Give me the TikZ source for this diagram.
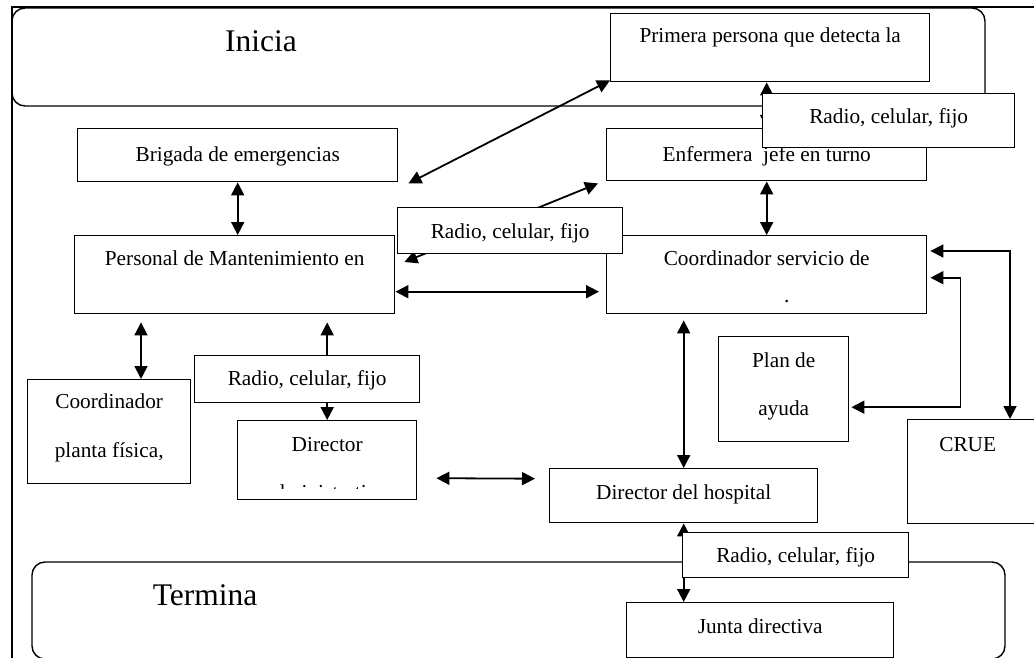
\documentclass[tikz,border=0pt]{standalone}
\usepackage{fontspec}
\setmainfont{Liberation Serif}
\usetikzlibrary{arrows.meta, calc}

\begin{document}
\begin{tikzpicture}[x=1pt, y=-1pt,
        font=\fontsize{21.3}{25}\selectfont,
        box/.style={draw, fill=white, line width=1.4pt, inner sep=0pt, anchor=north west},
        link/.style={line width=1.8pt, {Triangle[length=13pt,width=13pt]}-{Triangle[length=13pt,width=13pt]}},
        stage/.style={line width=1.4pt, rounded corners=13pt},
        title/.style={anchor=base, font=\fontsize{31.5}{36}\selectfont}]
        \useasboundingbox (0,0) rectangle (1034,658);

        \draw[line width=1.4pt] (12,658) -- (12,7) -- (1034,7);
        \draw[stage] (12,8) rectangle (985,106);
        \draw[stage] (32,562) rectangle (1005,659);
        \node[title] (inicia) at (261,52) {Inicia};
        \node[title] (termina) at (205,605) {Termina};

        \node[box, minimum width=319pt, text height=29pt, text depth=39pt] (primera) at (610,13) {Primera persona que detecta la};
        \node[box, minimum width=320pt, text height=33pt, text depth=20pt] (brigada) at (77,128) {Brigada de emergencias};
        \node[box, minimum width=320pt, text height=33pt, text depth=19pt] (enfermera) at (606,128) {Enfermera\ \ jefe en turno};
        \node[box, minimum width=320pt, text height=30pt, text depth=48pt] (personal) at (74,235) {Personal de Mantenimiento en};
        \node[box, minimum width=320pt, text height=30pt, text depth=48pt] (coordserv) at (606,235)
            {\parbox[t]{300pt}{\centering\fontsize{21.3}{37}\selectfont Coordinador servicio de\\\hspace*{40pt}.}};
        \node[box, minimum width=130pt, text height=31pt, text depth=74pt] (plan) at (718,336)
            {\parbox[t]{120pt}{\centering\fontsize{21.3}{48}\selectfont Plan de\\ayuda}};
        \node[box, minimum width=163pt, text height=29pt, text depth=75pt] (planta) at (27,379)
            {\parbox[t]{150pt}{\centering\fontsize{21.3}{49}\selectfont Coordinador\\planta física,}};
        \node[box, minimum width=179pt, text height=31pt, text depth=48pt] (diradm) at (237,420) {Director};
        \begin{scope}
            \clip (238,421) rectangle (415,488);
            \node[anchor=base, inner sep=0pt] (diradmcut) at (326.5,499) {administrativo};
        \end{scope}
        \node[box, minimum width=134pt, text height=32pt, text depth=72pt] (crue) at (907,419) {CRUE\hspace*{14pt}};
        \node[box, minimum width=268pt, text height=31pt, text depth=23pt] (dirhosp) at (549,468) {Director del hospital};
        \node[box, minimum width=267pt, text height=31pt, text depth=24pt] (junta) at (626,602) {Junta directiva};

        \draw[link] ($(brigada.south east)+(10,1)$) -- ($(primera.south west)+(0,-2)$);
        \draw[link] (enfermera.north) -- (enfermera.north |- primera.south);
        \draw[link] (enfermera.south) -- (coordserv.north);
        \draw[link] ($(personal.north east)+(9,27)$) -- ($(enfermera.south west)+(-8,2)$);
        \draw[link] ($(personal.east)+(0,17)$) -- ($(coordserv.west)+(-7,17)$);
        \draw[link] (brigada.south) -- (brigada.south |- personal.north);
        \draw[link] ($(personal.south west)+(67,8)$) -- ($(planta.north west)+(114,0)$);
        \draw[link] (diradm.north) -- ($(diradm.north |- personal.south)+(0,8)$);
        \draw[link] ($(diradm.east)+(19,18)$) -- ($(dirhosp.west)+(-14,-17)$);
        \draw[link] (dirhosp.north) -- ($(dirhosp.north |- coordserv.south)+(0,6)$);
        \draw[link] ($(coordserv.east)+(3,3)$) -- ++(30,0) |- ($(plan.east)+(2,18)$);
        \draw[link] ($(coordserv.north east)+(3,16)$) -| ($(crue.north west)+(103,0)$);
        \draw[link] (dirhosp.south) -- (dirhosp.south |- junta.north);

        \node[box, minimum width=252pt, text height=30pt, text depth=24pt] (radioA) at (762,93) {Radio, celular, fijo};
        \node[box, minimum width=225pt, text height=31pt, text depth=15pt] (radioB) at (397,207) {Radio, celular, fijo};
        \node[box, minimum width=225pt, text height=30pt, text depth=17pt] (radioC) at (194,355) {Radio, celular, fijo};
        \node[box, minimum width=226pt, text height=30pt, text depth=15pt] (radioD) at (682,532) {Radio, celular, fijo};
    \end{tikzpicture}
\end{document}
